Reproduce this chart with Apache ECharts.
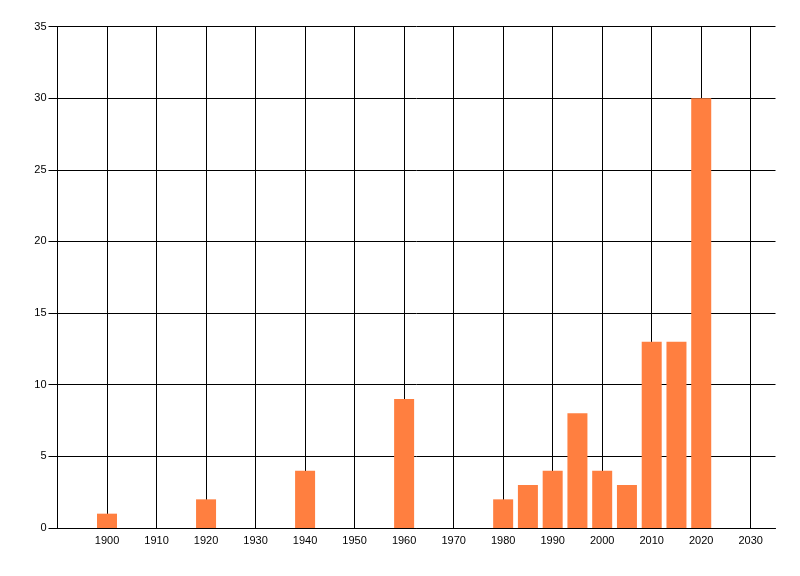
<!DOCTYPE html>
<html>
<head>
<meta charset="utf-8">
<script src="https://cdn.jsdelivr.net/npm/echarts@6/dist/echarts.min.js"></script>
<style>
  html, body { margin: 0; padding: 0; background: #fff; }
  #chart { width: 800px; height: 576px; }
</style>
</head>
<body>
<div id="chart"></div>
<script>
// bar positions (year) and heights
var years = [1900, 1920, 1940, 1960, 1980, 1985, 1990, 1995, 2000, 2005, 2010, 2015, 2020]
var counts = [1, 2, 4, 9, 2, 3, 4, 8, 4, 3, 13, 13, 30]
// vertical grid lines / labelled x ticks
var gridYears = [1900, 1910, 1920, 1930, 1940, 1950, 1960, 1970, 1980, 1990, 2000, 2010, 2020, 2030]

var chartDom = document.getElementById('chart')
var myChart = echarts.init(chartDom)
var option

var font = { fontFamily: 'Liberation Sans', fontSize: 11, color: '#000' }

option = {
  backgroundColor: '#fff',
  animation: false,
  grid: { left: 57.5, top: 26.5, right: 24.5, bottom: 48 },
  xAxis: {
    type: 'value',
    min: 1890,
    max: 2035,
    interval: 10,
    axisLine: { show: true, lineStyle: { color: '#000', width: 1 } },
    axisTick: { show: false },
    splitLine: { show: false },
    axisLabel: Object.assign({
      margin: 7,
      showMaxLabel: false,
      formatter: function (v) { return gridYears.indexOf(v) >= 0 ? String(v) : '' }
    }, font)
  },
  yAxis: {
    type: 'value',
    min: 0,
    max: 35,
    interval: 5,
    axisLine: { show: true, lineStyle: { color: '#000', width: 1 } },
    axisTick: { show: true, length: 9, lineStyle: { color: '#000', width: 1 } },
    splitLine: { show: true, lineStyle: { color: '#000', width: 1 } },
    axisLabel: Object.assign({ margin: 11 }, font)
  },
  series: [{
    type: 'bar',
    barWidth: 20,
    data: years.map(function (y, i) { return [y, counts[i]] }),
    itemStyle: { color: '#FF7F40' },
    z: 3,
    markLine: {
      silent: true,
      symbol: 'none',
      label: { show: false },
      lineStyle: { color: '#000', width: 1, type: 'solid' },
      z: 1,
      data: gridYears.map(function (y) { return { xAxis: y } })
    }
  }]
}

option && myChart.setOption(option)
</script>
</body>
</html>
